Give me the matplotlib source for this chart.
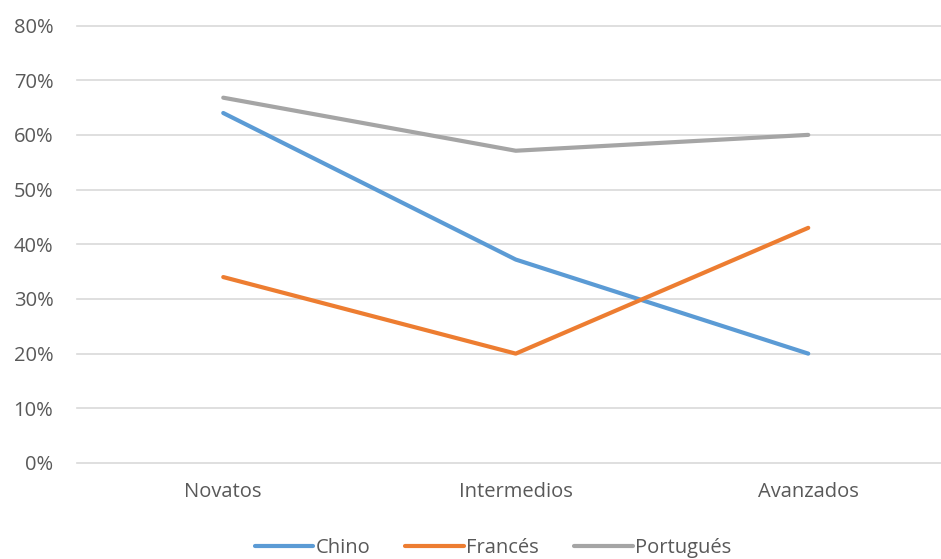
import matplotlib
matplotlib.use("Agg")
import matplotlib.pyplot as plt
from matplotlib.ticker import PercentFormatter

categories = ["Novatos", "Intermedios", "Avanzados"]
chino = [0.64, 0.372, 0.20]
frances = [0.34, 0.20, 0.43]
portugues = [0.668, 0.571, 0.60]
series_names = ["Chino", "Francés", "Portugués"]
colors = ["#5B9BD5", "#ED7D31", "#A5A5A5"]
yticks = [0, 0.1, 0.2, 0.3, 0.4, 0.5, 0.6, 0.7, 0.8]

plt.rcParams['font.family'] = ['Open Sans', 'DejaVu Sans']
W, H = 941, 559
fig = plt.figure(figsize=(W/100, H/100), dpi=100)
left = 77 / W
bottom = (H - 463) / H
height = (463 - 25.5) / H
width = (W - 77) / W
ax = fig.add_axes([left, bottom, width, height])

x = list(range(len(categories)))
for vals, name, c in zip([chino, frances, portugues], series_names, colors):
    ax.plot(x, vals, color=c, lw=3.0, solid_capstyle='round', label=name, zorder=3)

ax.set_ylim(0, 0.8)
ax.set_xlim(-0.5, -0.5 + (W - 77) / 292.5)
ax.set_yticks(yticks)
ax.yaxis.set_major_formatter(PercentFormatter(1.0, decimals=0))
ax.set_xticks(x)
ax.set_xticklabels(categories)
ax.grid(axis='y', color='#D9D9D9', lw=1.2)
ax.set_axisbelow(True)
for gl in ax.get_ygridlines():
    gl.set_clip_on(False)
for s in ax.spines.values():
    s.set_visible(False)
ax.tick_params(axis='both', length=0, labelsize=14.5, colors='#595959')
ax.tick_params(axis='y', pad=17)
ax.tick_params(axis='x', pad=14)

fig.legend(loc='center', bbox_to_anchor=(493 / W, (H - 548) / H), ncol=3, frameon=False,
           fontsize=14.5, handlelength=2.9, handletextpad=0.12, columnspacing=1.75,
           labelcolor='#595959')

fig.savefig("out.png", dpi=100, facecolor='white')
